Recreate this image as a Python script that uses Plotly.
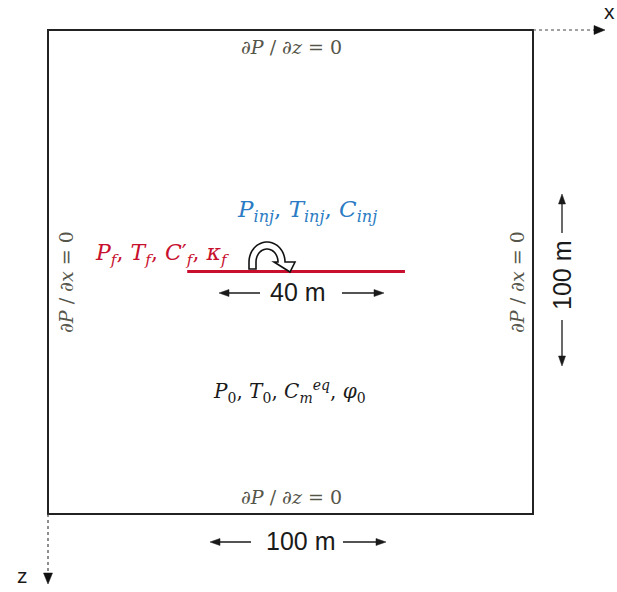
import numpy as np
import plotly.graph_objects as go

# ---------------- data (metres) ----------------
domain_size_m = [100, 100]          # width (x), depth (z)
fracture_x_m = [28.7, 73.6]          # fracture start / end along x
fracture_z_m = 49.9                  # fracture depth
dimension_labels = ["100 m", "100 m", "40 m"]
boundary_labels = ["∂<i>P</i> / ∂<i>z</i> = 0", "∂<i>P</i> / ∂<i>x</i> = 0"]
injection_label = ("<i>P</i><sub><i>inj</i></sub>, <i>T</i><sub><i>inj</i></sub>, "
                   "<i>C</i><sub><i>inj</i></sub>")
fracture_label = ("<i>P</i><sub><i>f</i></sub>, <i>T</i><sub><i>f</i></sub>, "
                  "<i>C</i>′<sub><i>f</i></sub>, <i>κ</i><sub><i>f</i></sub>")
matrix_label = ("<i>P</i><sub>0</sub>, <i>T</i><sub>0</sub>, "
                "<i>C</i><sub><i>m</i></sub><sup><i>eq</i></sup>, <i>φ</i><sub>0</sub>")
axis_names = ["x", "z"]

# ---------------- layout helpers ----------------
W, H = 617, 592
OX, OY = 48, 30           # pixel position of the domain origin
SX = (533 - 48) / domain_size_m[0]
SZ = (514 - 30) / domain_size_m[1]


def m(xp, yp):
    return (xp - OX) / SX, (yp - OY) / SZ


def path(points, close=True):
    s = ""
    for i, (xp, yp) in enumerate(points):
        x, y = m(xp, yp)
        s += ("M" if i == 0 else "L") + f"{x:.4f},{y:.4f} "
    return s + ("Z" if close else "")


def head(tip, direction, length=10, width=8):
    tx, ty = tip
    dx, dy = direction
    n = np.hypot(dx, dy)
    dx, dy = dx / n, dy / n
    bx, by = tx - dx * length, ty - dy * length
    px, py = -dy * width / 2, dx * width / 2
    return path([(tx, ty), (bx + px, by + py), (bx - px, by - py)])


shapes = []
annotations = []
DARK = "#1a1a1a"

# domain box
shapes.append(dict(type="rect", x0=0, y0=0, x1=domain_size_m[0], y1=domain_size_m[1],
                   line=dict(color="#222222", width=2), fillcolor="rgba(0,0,0,0)"))

# fracture
shapes.append(dict(type="line", x0=fracture_x_m[0], x1=fracture_x_m[1],
                   y0=fracture_z_m, y1=fracture_z_m,
                   line=dict(color="#c8102e", width=3.2)))

# coordinate axes (dotted) with arrow heads
xr, zr = domain_size_m
shapes.append(dict(type="line", x0=xr, y0=0, x1=m(595, 0)[0], y1=0,
                   line=dict(color="#444444", width=1.2, dash="dot")))
shapes.append(dict(type="path", path=head((605, 30), (1, 0), 11, 9),
                   fillcolor="#111111", line=dict(color="#111111", width=0.5)))
shapes.append(dict(type="line", x0=0, y0=zr, x1=0, y1=m(0, 574)[1],
                   line=dict(color="#444444", width=1.2, dash="dot")))
shapes.append(dict(type="path", path=head((48, 584), (0, 1), 11, 9),
                   fillcolor="#111111", line=dict(color="#111111", width=0.5)))
annotations.append(dict(x=m(609, 0)[0], y=m(0, 11)[1], text=axis_names[0], showarrow=False,
                        font=dict(family="Liberation Sans", size=21, color=DARK)))
annotations.append(dict(x=m(22, 0)[0], y=m(0, 575)[1], text=axis_names[1], showarrow=False,
                        font=dict(family="Liberation Sans", size=21, color=DARK)))


def dim_arrow(p0, p1, headlen=10, headw=7):
    # p0 -> p1, head at p1
    dx, dy = p1[0] - p0[0], p1[1] - p0[1]
    n = np.hypot(dx, dy)
    ux, uy = dx / n, dy / n
    end = (p1[0] - ux * headlen * 0.8, p1[1] - uy * headlen * 0.8)
    a, b = m(*p0), m(*end)
    shapes.append(dict(type="line", x0=a[0], y0=a[1], x1=b[0], y1=b[1],
                       line=dict(color=DARK, width=1.3)))
    shapes.append(dict(type="path", path=head(p1, (dx, dy), headlen, headw),
                       fillcolor=DARK, line=dict(color=DARK, width=0.5)))


DIMFONT = dict(family="Liberation Sans", size=25, color=DARK)
# horizontal 100 m dimension
dim_arrow((251, 542), (210, 542))
dim_arrow((343, 542), (386, 542))
annotations.append(dict(x=m(300, 0)[0], y=m(0, 541)[1], text=dimension_labels[0], showarrow=False,
                        font=DIMFONT))
# vertical 100 m dimension
dim_arrow((562, 233), (562, 194))
dim_arrow((562, 320), (562, 366))
annotations.append(dict(x=m(562, 0)[0], y=m(0, 276)[1], text=dimension_labels[1], showarrow=False,
                        textangle=-90, font=DIMFONT))
# 40 m dimension
dim_arrow((260, 293), (219, 293))
dim_arrow((342, 293), (384, 293))
annotations.append(dict(x=m(298, 0)[0], y=m(0, 292)[1], text=dimension_labels[2], showarrow=False,
                        font=DIMFONT))

# boundary condition labels
BC = "#55554a"
mathfont = "DejaVu Serif"
for yp in (47, 497):
    annotations.append(dict(x=m(291, 0)[0], y=m(0, yp)[1], text=boundary_labels[0], showarrow=False,
                            font=dict(family=mathfont, size=19, color=BC)))
for xp in (66, 517):
    annotations.append(dict(x=m(xp, 0)[0], y=m(0, 282)[1], text=boundary_labels[1], showarrow=False,
                            textangle=-90, font=dict(family=mathfont, size=19, color=BC)))

# region labels
annotations.append(dict(x=m(307, 0)[0], y=m(0, 211)[1], text=injection_label, showarrow=False,
                        font=dict(family=mathfont, size=23, color="#2b7cc4")))
annotations.append(dict(x=m(162, 0)[0], y=m(0, 254)[1], text=fracture_label, showarrow=False,
                        font=dict(family=mathfont, size=22, color="#c8102e")))
annotations.append(dict(x=m(289, 0)[0], y=m(0, 391)[1], text=matrix_label, showarrow=False,
                        font=dict(family=mathfont, size=20, color=DARK)))

# curved injection arrow (hollow)
cx, cy = 267, 262
ang = np.linspace(np.pi, 0, 30)
outer = [(cx + 18 * np.cos(a), cy - 20 * np.sin(a)) for a in ang]
inner = [(cx + 11 * np.cos(a), cy - 13 * np.sin(a)) for a in ang[::-1]]
pts = [(249, 269)] + outer + [(295, 262), (290, 272), (274, 262), (278, 262)] + inner + [(256, 269)]
shapes.append(dict(type="path", path=path(pts), fillcolor="white",
                   line=dict(color="#111111", width=1.6)))

fig = go.Figure()
fig.update_layout(
    width=W, height=H,
    margin=dict(l=0, r=0, t=0, b=0),
    paper_bgcolor="white", plot_bgcolor="white",
    xaxis=dict(range=[-OX / SX, (W - OX) / SX], visible=False, fixedrange=True),
    yaxis=dict(range=[(H - OY) / SZ, -OY / SZ], visible=False, fixedrange=True),
    shapes=shapes, annotations=annotations, showlegend=False,
)
fig.write_html("out.html")
